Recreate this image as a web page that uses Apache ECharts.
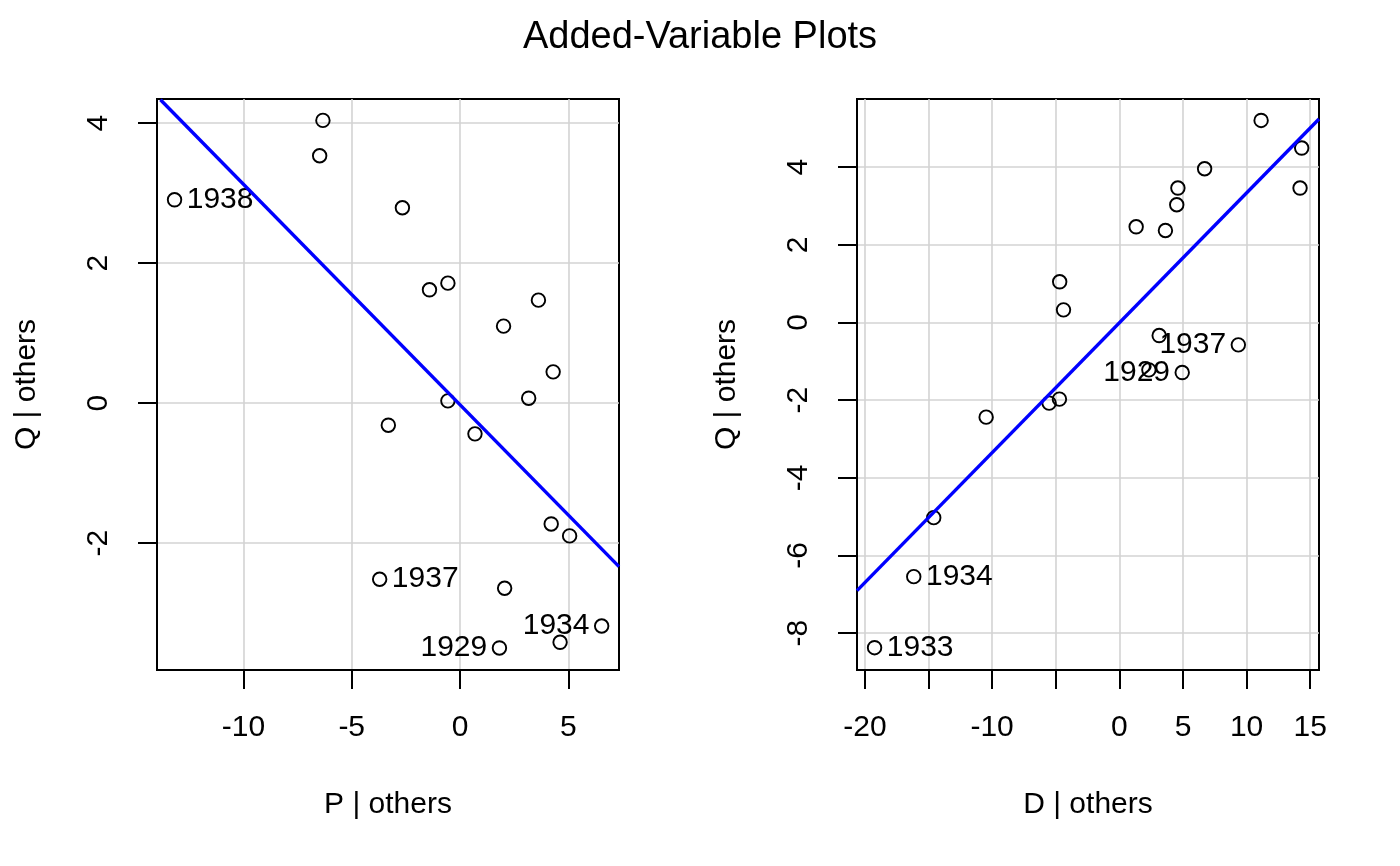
<!DOCTYPE html>
<html><head><meta charset="utf-8">
<script src="https://cdn.jsdelivr.net/npm/echarts@6/dist/echarts.min.js"></script>
<style>html,body{margin:0;padding:0;background:#fff}#c{width:1400px;height:866px}</style>
</head><body><div id="c"></div>
<script>
const chartTitle = 'Added-Variable Plots';

// Left panel: Q | others vs P | others
const leftXName = 'P | others';
const leftYName = 'Q | others';
const leftX = [-6.33, -6.48, -13.18, -2.66, -1.41, -0.56, 3.62, 2.01, 4.30, -0.56, 3.17, -3.31, 0.69, 4.21, 5.06, -3.71, 2.06, 6.54, 4.62, 1.82];
const leftY = [4.04, 3.535, 2.906, 2.792, 1.62, 1.715, 1.472, 1.10, 0.447, 0.033, 0.071, -0.315, -0.439, -1.726, -1.897, -2.516, -2.645, -3.184, -3.417, -3.498];
const leftLabels = ['', '', '1938', '', '', '', '', '', '', '', '', '', '', '', '', '1937', '', '1934', '', '1929'];
const leftLineX = [-13.83, 7.34];
const leftLineY = [4.336, -2.336];
const leftXRange = [-13.99, 7.34];
const leftYRange = [-3.813, 4.346];
const leftXTicks = [-10, -5, 0, 5];
const leftXTickLabels = [-10, -5, 0, 5];
const leftYTicks = [-2, 0, 2, 4];
const leftYTickLabels = [-2, 0, 2, 4];

// Right panel: Q | others vs D | others
const rightXName = 'D | others';
const rightYName = 'Q | others';
const rightX = [11.14, 14.33, 14.20, 6.70, 4.60, 4.51, 1.32, 3.62, -4.69, -4.39, 3.13, 9.35, 4.94, 2.32, -4.71, -5.52, -10.47, -14.59, -16.16, -19.24];
const rightY = [5.206, 4.494, 3.464, 3.961, 3.464, 3.034, 2.466, 2.371, 1.049, 0.327, -0.335, -0.575, -1.289, -1.219, -1.974, -2.077, -2.438, -5.026, -6.546, -8.376];
const rightLabels = ['', '', '', '', '', '', '', '', '', '', '', '1937', '1929', '', '', '', '', '', '1934', '1933'];
const rightLineX = [-20.62, 15.69];
const rightLineY = [-6.907, 5.242];
const rightXRange = [-20.62, 15.69];
const rightYRange = [-8.951, 5.758];
const rightXTicks = [-20, -15, -10, -5, 0, 5, 10, 15];
const rightXTickLabels = [-20, -10, 0, 5, 10, 15];
const rightYTicks = [-8, -6, -4, -2, 0, 2, 4];
const rightYTickLabels = [-8, -6, -4, -2, 0, 2, 4];

const FONT = 'Liberation Sans, Arial, Helvetica, sans-serif';
const FS = 30;

function xAxisCfg(gi, range, ticks, labels, name) {
  return {
    type: 'value', gridIndex: gi, min: range[0], max: range[1],
    name: name, nameLocation: 'middle', nameGap: 120,
    nameTextStyle: {fontSize: FS, color: '#000', fontFamily: FONT},
    axisLine: {show: true, onZero: false, lineStyle: {color: '#000', width: 2}},
    axisTick: {show: true, length: 19, customValues: ticks, lineStyle: {color: '#000', width: 2}},
    axisLabel: {customValues: labels, fontSize: FS, color: '#000', margin: 43, fontFamily: FONT},
    splitLine: {show: true, lineStyle: {color: '#D3D3D3', width: 1.6}}
  };
}
function yAxisCfg(gi, range, ticks, labels, name) {
  return {
    type: 'value', gridIndex: gi, min: range[0], max: range[1],
    name: name, nameLocation: 'middle', nameGap: 115,
    nameTextStyle: {fontSize: FS, color: '#000', fontFamily: FONT},
    axisLine: {show: true, onZero: false, lineStyle: {color: '#000', width: 2}},
    axisTick: {show: true, length: 19, customValues: ticks, lineStyle: {color: '#000', width: 2}},
    axisLabel: {customValues: labels, rotate: 90, fontSize: FS, color: '#000', margin: 43, fontFamily: FONT},
    splitLine: {show: true, lineStyle: {color: '#D3D3D3', width: 1.6}}
  };
}
function mean(a) { return a.reduce((s, v) => s + v, 0) / a.length; }
function scatterSeries(gi, xs, ys, labs) {
  const mx = mean(xs);
  return {
    type: 'scatter', xAxisIndex: gi, yAxisIndex: gi,
    symbol: 'circle', symbolSize: 13.5,
    itemStyle: {color: 'rgba(0,0,0,0)', borderColor: '#000', borderWidth: 1.9, opacity: 1},
    label: {show: false, formatter: '{b}', fontSize: FS, color: '#000', fontFamily: FONT, distance: 4.5},
    emphasis: {disabled: true},
    data: xs.map((x, i) => ({
      value: [x, ys[i]], name: labs[i],
      label: {show: labs[i] !== '', position: x > mx ? 'left' : 'right'}
    })),
    z: 3
  };
}
function lineSeries(gi, lx, ly) {
  return {
    type: 'line', xAxisIndex: gi, yAxisIndex: gi, clip: true,
    symbol: 'none', showSymbol: false,
    lineStyle: {color: '#0000FF', width: 3.4},
    emphasis: {disabled: true},
    data: lx.map((x, i) => [x, ly[i]]),
    z: 4
  };
}

const chart = echarts.init(document.getElementById('c'), null, {renderer: 'canvas'});
chart.setOption({
  animation: false,
  backgroundColor: '#fff',
  title: {text: chartTitle, left: 'center', top: 19, padding: 0,
    textStyle: {fontSize: 38, fontWeight: 'normal', color: '#000', fontFamily: FONT}},
  grid: [
    {left: 157, top: 99, width: 462, height: 571, show: true, borderColor: '#000', borderWidth: 2, backgroundColor: 'transparent'},
    {left: 857, top: 99, width: 462, height: 571, show: true, borderColor: '#000', borderWidth: 2, backgroundColor: 'transparent'}
  ],
  xAxis: [
    xAxisCfg(0, leftXRange, leftXTicks, leftXTickLabels, leftXName),
    xAxisCfg(1, rightXRange, rightXTicks, rightXTickLabels, rightXName)
  ],
  yAxis: [
    yAxisCfg(0, leftYRange, leftYTicks, leftYTickLabels, leftYName),
    yAxisCfg(1, rightYRange, rightYTicks, rightYTickLabels, rightYName)
  ],
  series: [
    scatterSeries(0, leftX, leftY, leftLabels),
    lineSeries(0, leftLineX, leftLineY),
    scatterSeries(1, rightX, rightY, rightLabels),
    lineSeries(1, rightLineX, rightLineY)
  ]
});
</script></body></html>
